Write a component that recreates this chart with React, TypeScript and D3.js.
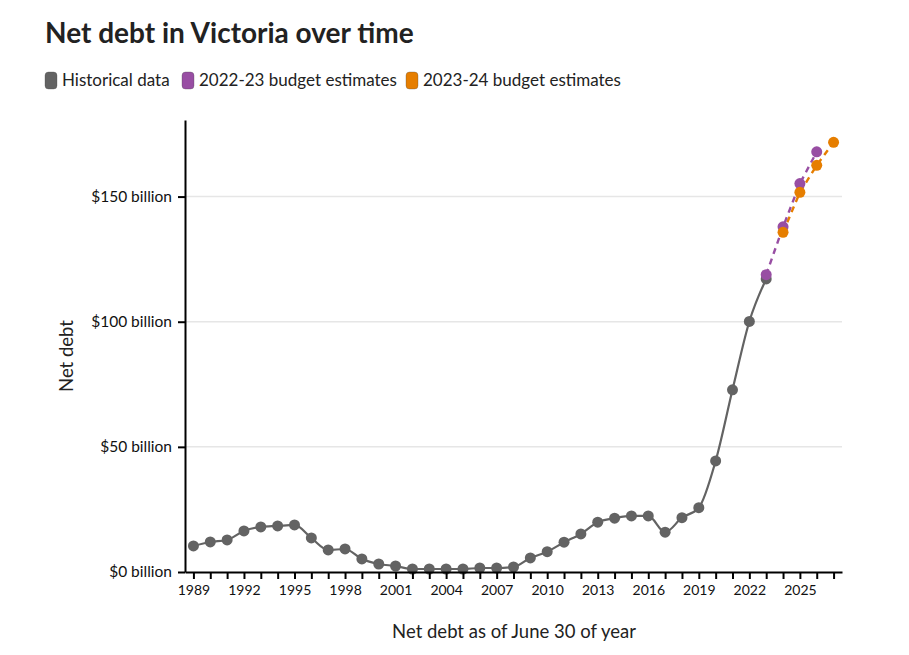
import React, { useEffect, useRef } from 'react';
import * as d3 from 'd3';

const WIDTH = 909;
const HEIGHT = 655;
const FONT = 'Lato, "Noto Sans", sans-serif';

// historical net debt, $ billion
const histYears = [
  1989, 1990, 1991, 1992, 1993, 1994, 1995, 1996, 1997, 1998, 1999, 2000, 2001, 2002,
  2003, 2004, 2005, 2006, 2007, 2008, 2009, 2010, 2011, 2012, 2013, 2014, 2015, 2016,
  2017, 2018, 2019, 2020, 2021, 2022, 2023,
];
const histValues = [
  10.4, 12, 12.8, 16.4, 18, 18.4, 18.8, 13.6, 8.8, 9.2, 5.2, 3.2, 2.4, 1.2,
  1.2, 1.2, 1.2, 1.6, 1.6, 2, 5.6, 8.1, 11.9, 15.2, 19.9, 21.5, 22.4, 22.4,
  15.9, 21.7, 25.7, 44.4, 72.8, 100.1, 117.1,
];
const est2223Years = [2023, 2024, 2025, 2026];
const est2223Values = [118.8, 137.9, 155.2, 167.9];
const est2324Years = [2024, 2025, 2026, 2027];
const est2324Values = [135.7, 151.7, 162.5, 171.7];

const yTicks = [0, 50, 100, 150];
const legendLabels = ['Historical data', '2022-23 budget estimates', '2023-24 budget estimates'];
const colors = ['#636363', '#984ea3', '#e67e00'];
// left edge of each legend swatch
const legendPos = [45, 182, 406];

const margin = { l: 185, r: 67, t: 120, b: 83 };

const App = () => {
  const $x = useRef<SVGGElement>(null);
  const $y = useRef<SVGGElement>(null);
  const innerW = WIDTH - margin.l - margin.r;
  const innerH = HEIGHT - margin.t - margin.b;

  const x = d3.scaleLinear().domain([1988.5, 2027.5]).range([0, innerW]);
  const y = d3.scaleLinear().domain([0, 180.6]).range([innerH, 0]);

  const toPts = (yrs: number[], vals: number[]) => yrs.map((yr, i) => [yr, vals[i]] as [number, number]);
  const hist = toPts(histYears, histValues);
  const e1 = toPts(est2223Years, est2223Values);
  const e2 = toPts(est2324Years, est2324Values);

  const smooth = d3
    .line<[number, number]>()
    .x((d) => x(d[0]))
    .y((d) => y(d[1]))
    .curve(d3.curveMonotoneX);
  const straight = d3
    .line<[number, number]>()
    .x((d) => x(d[0]))
    .y((d) => y(d[1]));

  useEffect(() => {
    const xAxis = d3
      .axisBottom(x)
      .tickValues(d3.range(1989, 2028))
      .tickSize(7)
      .tickSizeOuter(0)
      .tickFormat((d: any) => ((d - 1989) % 3 === 0 ? String(d) : ''));
    const gx = d3.select($x.current!);
    gx.call(xAxis as any);
    gx.select('.domain').attr('stroke', '#000').attr('stroke-width', 2);
    gx.selectAll('.tick line').attr('stroke', '#000').attr('stroke-width', 2);
    gx.selectAll('.tick text')
      .attr('font-family', FONT)
      .attr('font-size', 14)
      .attr('fill', '#111')
      .attr('dy', '0.95em');

    const yAxis = d3
      .axisLeft(y)
      .tickValues(yTicks)
      .tickSize(7)
      .tickSizeOuter(0)
      .tickFormat((d: any) => `$${d} billion`);
    const gy = d3.select($y.current!);
    gy.call(yAxis as any);
    gy.select('.domain').attr('stroke', '#000').attr('stroke-width', 2);
    gy.selectAll('.tick line').attr('stroke', '#000').attr('stroke-width', 2);
    gy.selectAll('.tick text')
      .attr('font-family', FONT)
      .attr('font-size', 15.5)
      .attr('fill', '#111')
      .attr('x', -13);
  }, []);

  return (
    <svg width={WIDTH} height={HEIGHT} style={{ display: 'block', position: 'absolute', left: 0, top: 0 }}>
      <rect width={WIDTH} height={HEIGHT} fill="#fff" />
      <text x={45} y={43} fontFamily={FONT} fontWeight={700} fontSize={28} fill="#222">
        Net debt in Victoria over time
      </text>
      {legendLabels.map((lab, i) => (
        <g key={lab} transform={`translate(${legendPos[i]},72)`}>
          <rect width={12} height={17} rx={3.5} fill={colors[i]} stroke="#444" strokeOpacity={0.3} />
          <text x={17} y={14} fontFamily={FONT} fontSize={17} fill="#222">
            {lab}
          </text>
        </g>
      ))}
      <g transform={`translate(${margin.l},${margin.t})`}>
        {yTicks
          .filter((t) => t > 0)
          .map((t) => (
            <line key={t} x1={0} x2={innerW} y1={y(t)} y2={y(t)} stroke="#e6e6e6" strokeWidth={1.5} />
          ))}
        <path d={smooth(hist) || ''} fill="none" stroke={colors[0]} strokeWidth={2.2} />
        {hist.map((d) => (
          <circle key={d[0]} cx={x(d[0])} cy={y(d[1])} r={5.5} fill={colors[0]} />
        ))}
        <path d={straight(e2) || ''} fill="none" stroke={colors[2]} strokeWidth={2.4} strokeDasharray="6,5" />
        <path d={straight(e1) || ''} fill="none" stroke={colors[1]} strokeWidth={2.4} strokeDasharray="6,5" />
        {e1.map((d) => (
          <circle key={d[0]} cx={x(d[0])} cy={y(d[1])} r={5.5} fill={colors[1]} />
        ))}
        {e2.map((d) => (
          <circle key={d[0]} cx={x(d[0])} cy={y(d[1])} r={5.5} fill={colors[2]} />
        ))}
        <g ref={$x} transform={`translate(0,${innerH})`} />
        <g ref={$y} />
      </g>
      <text
        transform={`translate(73,${margin.t + innerH / 2 + 10}) rotate(-90)`}
        textAnchor="middle"
        fontFamily={FONT}
        fontSize={18.5}
        fill="#222"
      >
        Net debt
      </text>
      <text x={514} y={638} textAnchor="middle" fontFamily={FONT} fontSize={18.5} fill="#222">
        Net debt as of June 30 of year
      </text>
    </svg>
  );
};

export default App;
